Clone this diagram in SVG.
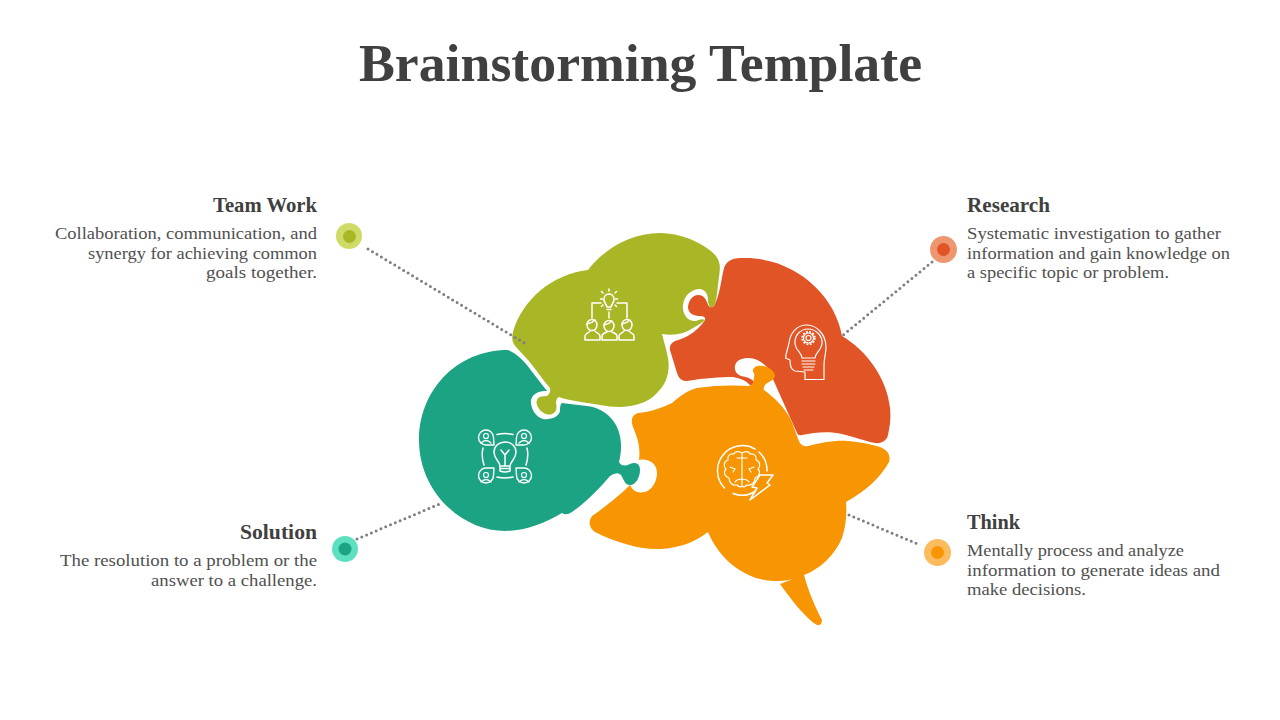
<svg xmlns="http://www.w3.org/2000/svg" width="1280" height="720" viewBox="0 0 1280 720">
<style>
text{font-family:"Liberation Serif","Noto Serif",serif;}
.title{font-size:53px;font-weight:700;fill:#404040;}
.head{font-size:21.5px;font-weight:700;fill:#404040;}
.body{font-size:17.5px;fill:#505050;}
.end{text-anchor:end;}
.ic{fill:none;stroke:#fff;stroke-width:1.5;stroke-linecap:round;stroke-linejoin:round;}
.thin{stroke-width:1.2;}
.dot{fill:none;stroke:#7f7f7f;stroke-width:3;stroke-linecap:round;stroke-dasharray:0 5.2;}
</style>
<rect width="1280" height="720" fill="#fff"/>
<text class="title" x="359" y="81" textLength="563" lengthAdjust="spacingAndGlyphs">Brainstorming Template</text>

<g id="node-research">
<path fill="#e15425" d="M745,258 C734,258 727,259 724,268 C721,280 720,295 714,306 Q711,309 708,305 C706,298 703,295 698,295 C692,295 688,302 688,308 C689,314 694,316 700,316 Q706,316 705,320 C700,328 690,337 675,341 Q669,344 670,350 L677,373 Q680,382 687,381 C705,378 720,377 733,377 Q745,379 750,385 Q755,385 754,382 Q752,379 746,377 C738,376 734,372 735,366 C736,360 742,358 749,358 C756,358 762,362 768,368 L797,433 Q798,436 802,435 C815,432 830,431 842,434 C855,437 865,441 875,443 C882,444 887,440 888,435 C890,425 891,418 890,408 C887,378 866,350 842,336 C835,295 795,258 745,258 Z"/>
<g class="ic thin">
<path d="M805,372 V379.500 H824 V365 C824,358 826,354 826,347 C826,335 817,325 807,325 C796,325 790,334 789,343 C788,348 786,353 785.500,358 L790,360 C790,364 790,370 795,371 L805,372"/>
<path d="M802,358 C802,353 796,351 795,344 C794,336 800,329 808,329 C816,329 823,336 822,344 C821,351 815,353 815,358 Z"/>
<circle cx="808.500" cy="338" r="2.500"/>
<circle cx="808.500" cy="338" r="5"/>
<circle cx="808.500" cy="338" r="6.300" stroke-dasharray="1.800 1.500" stroke-width="1.800" stroke-linecap="butt"/>
<path d="M802,361 H815 M802,364 H815 M803,367 H814 M804,370 H813"/>
</g>
</g>

<g id="node-think">
<path fill="#f79502" d="M755,367 Q757,365 763,366 C769,367 775,371 775,376 C774,381 767,382 765,385 Q763,388 764,390 C775,398 785,408 791,420 C795,430 797,437 800,443 Q803,447 808,446 C820,443 835,440 848,441 C860,442 870,444 880,447 C888,450 891,456 889,462 C882,475 868,490 846,502 C847,515 846,525 842,538 C835,555 820,569 804,575 C808,590 815,607 822,620 Q822,626 817,625 C808,620 795,605 780,584 L793,579 C786,581 780,581 773,581 C750,580 722,565 708,532 C695,542 680,548 660,549 C640,550 615,542 595,532 Q586,525 592,516 C605,507 620,495 630,485 Q632,490 637,492 C650,495 657,483 657,473 C657,463 648,458 639,460 C641,445 636,435 633,427 Q629,416 638,413 C650,412 662,408 672,403 C680,396 688,390 697,388 C715,385 735,385 748,386 Q753,386 754,378 Q755,372 753,372 Q752,369 755,367 Z"/>
<g class="ic">
<path d="M755,491.500 A25,25 0 0 1 733,493.500 M724.500,488 A25,25 0 0 1 755,449 M759,452 A25,25 0 0 1 767,471"/>
<path d="M760,475 H773 L767,483 L770,485 L750,500 L757,488 L752,487 Z"/>
<path class="thin" d="M742,453 C739,451 735,451 734,454 C730,453 727,456 728,460 C724,461 723,466 726,469 C723,472 725,477 729,478 C729,483 733,486 737,485 C739,487 741,487 742,486 C743,487 745,487 747,485 C751,486 755,483 755,478 C759,477 761,472 758,469 C761,466 760,461 756,460 C757,456 754,453 750,454 C749,451 745,451 742,453 Z M742,453 V486 M737,458 H747 M730,467 L735,469 M735,469 L733,472 M754,467 L749,469 M749,469 L751,472 M735,482 Q737,479 742,479 Q747,479 749,482"/>
</g>
</g>

<g id="node-teamwork">
<path fill="#a9b626" d="M588,270 C552,274 522,300 513,332 C511,340 513,343 516,347 L528,360 C535,368 543,380 550,388 Q551,393 547,396 Q540,396 538,398 Q535,402 538,407 C541,413 548,416 552,414 C557,412 557,408 556,403 Q556,398 559,397 C570,401 590,403 600,405 C625,410 645,405 656,394 C668,383 670,370 668,358 C666,348 664,342 662,334 Q680,337 693,328 Q702,323 705,320 Q702,318 696,321 C688,322 682,314 683,305 C684,295 692,289 700,289 C706,290 708,295 708,300 C708,305 710,308 713,307 C716,305 717,295 718,285 C719,275 721,268 719,262 C717,254 706,246 690,239 C680,235 670,233 660,233 C630,233 603,250 588,270 Z"/>
<g class="ic">
<path d="M607,307 C606,303 603,302 604,298 C605,295 607,294 609,294 C611,294 613,295 614,298 C615,302 612,303 611,307 Z M607,309.500 H611"/>
<path d="M609,291 V289 M603,293 L601.500,291.500 M615,293 L616.500,291.500 M600.500,299 H602.500 M615.500,299 H617.500 M603,305 L601.500,306.500 M615,305 L616.500,306.500"/>
<path d="M601,303 H592 V318 M617,303 H627 V318 M609,312 V318"/>
<ellipse cx="592" cy="325" rx="5" ry="5.500"/><ellipse cx="609" cy="326" rx="5" ry="5.500"/><ellipse cx="627" cy="325" rx="5" ry="5.500"/>
<path d="M587,324 Q592,323 595,320 M604,325 Q609,324 612,321 M622,324 Q627,323 630,320"/>
<path d="M585,340 V336 C585,333 589,333 590,331 M600,340 V336 C600,333 596,333 595,331 M585,340 H600"/>
<path d="M602,340 V336 C602,333 606,333 607,332 M617,340 V336 C617,333 613,333 612,332 M602,340 H617"/>
<path d="M619,340 V336 C619,333 623,333 624,331 M634,340 V336 C634,333 630,333 629,331 M619,340 H634"/>
</g>
</g>

<g id="node-solution">
<path fill="#1ca383" d="M508,350 C455,350 419,392 419,440 C419,492 462,531 505,531 C525,531 545,523 562,513 Q566,516 572,512 C585,503 600,488 610,476 Q617,471 621,475 C624,480 625,485 630,485 C636,485 640,477 640,470 C640,463 635,462 630,464 Q622,468 619,462 C622,450 622,438 617,427 C612,416 600,407 587,406 C578,405 570,404 562,403 Q560,404 560,410 C560,417 550,420 543,419 C535,417 530,407 531,400 C533,392 541,391 547,391 L533,373 C525,362 518,354 508,350 Z"/>
<g class="ic">
<path d="M500,466 C499,460 494,459 494,452 C494,446 499,442 505,442 C511,442 516,446 516,452 C516,459 511,460 510,466 Z M500,466 V471 Q505,473 510,471 V466 M500,468.500 H510 M505,466 V454 M501,450 L505,455 L509,450"/>
<path d="M497,434.500 Q505,432.500 513,434.500 M497,477 Q505,479 513,477 M483,448 Q481,456 484,465 M527,448 Q529,456 526,465"/>
<path d="M494,445 H486 A7.500,7.500 0 1 1 493.500,437.500 Z M516,445 H524 A7.500,7.500 0 1 0 516.500,437.500 Z M494,468 H486 A7.500,7.500 0 1 0 493.500,475.500 Z M516,468 H524 A7.500,7.500 0 1 1 516.500,475.500 Z" stroke-width="1.400"/>
<circle class="thin" cx="486" cy="436" r="2.500"/><circle class="thin" cx="524" cy="436" r="2.500"/><circle class="thin" cx="486" cy="475" r="2.500"/><circle class="thin" cx="524" cy="475" r="2.500"/>
<path class="thin" d="M481,443 Q486,438 491,443 M519,443 Q524,438 529,443 M481,482 Q486,477 491,482 M519,482 Q524,477 529,482"/>
</g>
</g>

<g id="connectors">
<path class="dot" d="M368,249 L526,344"/>
<path class="dot" d="M932,262 L842,336"/>
<path class="dot" d="M357,539 L442,503"/>
<path class="dot" d="M849,515 L920,545"/>
</g>

<g id="label-teamwork">
<circle cx="349" cy="236" r="13" fill="#cfdb66"/><circle cx="349.500" cy="236.500" r="6.500" fill="#a9b626"/>
<text class="head end" x="317" y="212" textLength="104" lengthAdjust="spacingAndGlyphs">Team Work</text>
<text class="body end" x="317" y="239" textLength="262" lengthAdjust="spacingAndGlyphs">Collaboration, communication, and</text>
<text class="body end" x="317" y="259" textLength="229" lengthAdjust="spacingAndGlyphs">synergy for achieving common</text>
<text class="body end" x="317" y="278" textLength="111" lengthAdjust="spacingAndGlyphs">goals together.</text>
</g>
<g id="label-research">
<circle cx="943.500" cy="249.500" r="13.500" fill="#ee9670"/><circle cx="943.500" cy="249.500" r="6.500" fill="#e15425"/>
<text class="head" x="967" y="212" textLength="83" lengthAdjust="spacingAndGlyphs">Research</text>
<text class="body" x="967" y="239" textLength="254" lengthAdjust="spacingAndGlyphs">Systematic investigation to gather</text>
<text class="body" x="967" y="259" textLength="263" lengthAdjust="spacingAndGlyphs">information and gain knowledge on</text>
<text class="body" x="967" y="278" textLength="202" lengthAdjust="spacingAndGlyphs">a specific topic or problem.</text>
</g>
<g id="label-solution">
<circle cx="345" cy="549" r="13" fill="#5de0c0"/><circle cx="345" cy="549" r="6.500" fill="#1ca383"/>
<text class="head end" x="317" y="539" textLength="77" lengthAdjust="spacingAndGlyphs">Solution</text>
<text class="body end" x="317" y="566" textLength="257" lengthAdjust="spacingAndGlyphs">The resolution to a problem or the</text>
<text class="body end" x="317" y="586" textLength="166" lengthAdjust="spacingAndGlyphs">answer to a challenge.</text>
</g>
<g id="label-think">
<circle cx="937.500" cy="552.500" r="13.500" fill="#fcbc5e"/><circle cx="937.500" cy="552.500" r="6.500" fill="#f79502"/>
<text class="head" x="967" y="529" textLength="53" lengthAdjust="spacingAndGlyphs">Think</text>
<text class="body" x="967" y="556" textLength="217" lengthAdjust="spacingAndGlyphs">Mentally process and analyze</text>
<text class="body" x="967" y="576" textLength="253" lengthAdjust="spacingAndGlyphs">information to generate ideas and</text>
<text class="body" x="967" y="595" textLength="119" lengthAdjust="spacingAndGlyphs">make decisions.</text>
</g>
</svg>
